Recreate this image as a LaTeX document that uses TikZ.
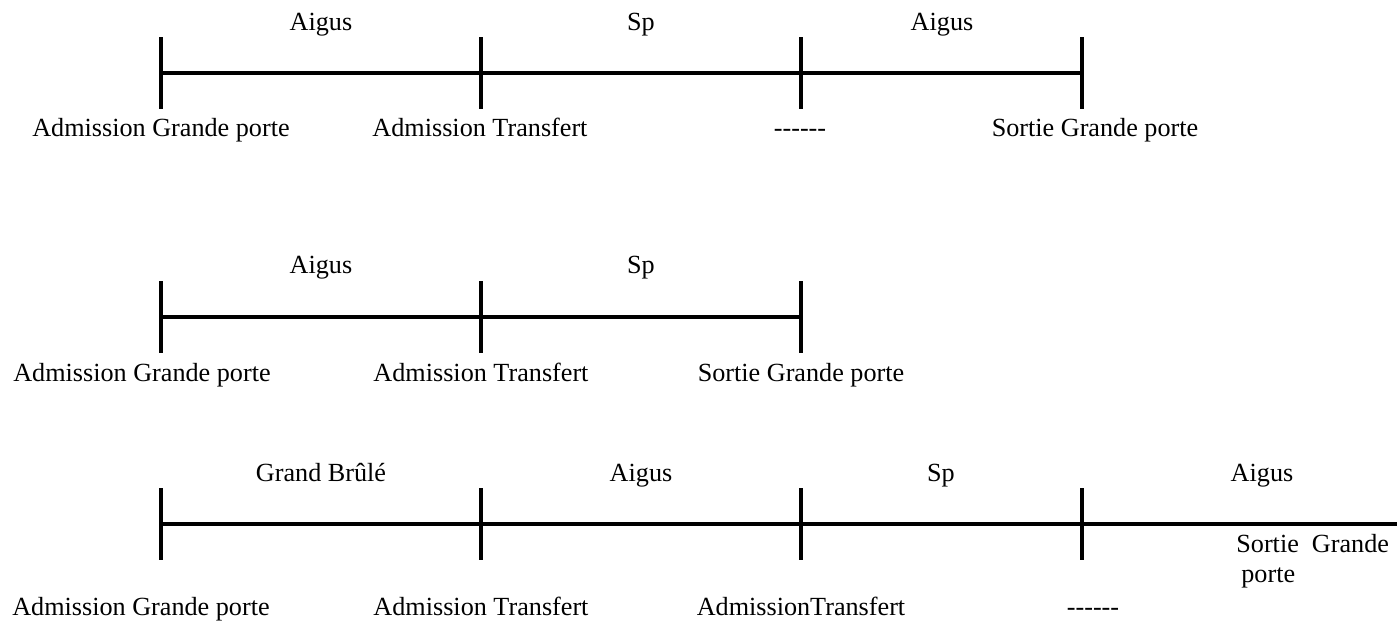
\documentclass[tikz,border=0pt]{standalone}
\usepackage{fontspec}
\setmainfont{Liberation Serif}

\begin{document}

\begin{tikzpicture}[x=0.02cm, y=-0.02cm,
    lbl/.style={anchor=base, inner sep=0pt, font=\fontsize{14.9}{17.6}\selectfont},
    tick/.style={fill=black, inner sep=0pt, minimum width=2.2pt, minimum height=1.44cm},
    axe/.style={line width=2.2pt}]
\useasboundingbox (0,0) rectangle (1397,624);

% parcours 1
\node[tick] (a1) at (161,73) {};
\node[tick] (a2) at (481,73) {};
\node[tick] (a3) at (801,73) {};
\node[tick] (a4) at (1082,73) {};
\draw[axe] (a1.center) -- (a4.center);
\node[lbl] (a12) at (321,31) {Aigus};
\node[lbl] (a23) at (641,31) {Sp};
\node[lbl] (a34) at (942,31) {Aigus};
\node[lbl] (a1l) at (161,137) {Admission Grande porte};
\node[lbl] (a2l) at (480,137) {Admission Transfert};
\node[lbl] (a3l) at (800,137) {-{}-{}-{}-{}-{}-};
\node[lbl] (a4l) at (1095,137) {Sortie Grande porte};

% parcours 2
\node[tick] (b1) at (161,317) {};
\node[tick] (b2) at (481,317) {};
\node[tick] (b3) at (801,317) {};
\draw[axe] (b1.center) -- (b3.center);
\node[lbl] (b12) at (321,274) {Aigus};
\node[lbl] (b23) at (641,274) {Sp};
\node[lbl] (b1l) at (142,382) {Admission Grande porte};
\node[lbl] (b2l) at (481,382) {Admission Transfert};
\node[lbl] (b3l) at (801,382) {Sortie Grande porte};

% parcours 3
\node[tick] (c1) at (161,524) {};
\node[tick] (c2) at (481,524) {};
\node[tick] (c3) at (801,524) {};
\node[tick] (c4) at (1082,524) {};
\coordinate (c5) at (1397,524);
\draw[axe] (c1.center) -- (c5);
\node[lbl] (c12) at (321,482) {Grand Brûlé};
\node[lbl] (c23) at (641,482) {Aigus};
\node[lbl] (c34) at (941,482) {Sp};
\node[lbl] (c45) at (1262,482) {Aigus};
\node[lbl] (c1l) at (141,616) {Admission Grande porte};
\node[lbl] (c2l) at (481,616) {Admission Transfert};
\node[lbl] (c3l) at (801,616) {AdmissionTransfert};
\node[lbl] (c4l) at (1093,616) {-{}-{}-{}-{}-{}-};
\node[lbl, anchor=base west, align=left] (c5l) at (1236,583) {Sortie~~Grande\\\hspace*{0.1cm}porte};

\end{tikzpicture}

\end{document}
